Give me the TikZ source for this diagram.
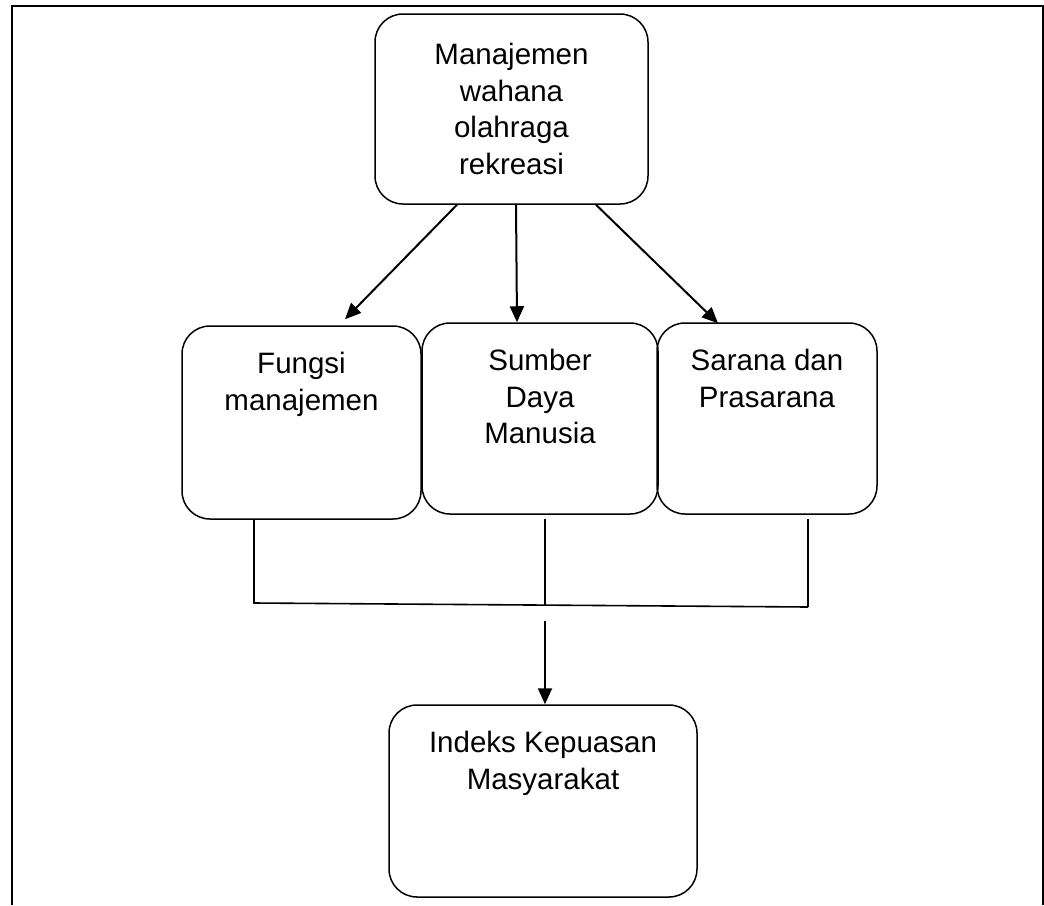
\documentclass[tikz,border=0pt]{standalone}
\usepackage{fontspec}
\setmainfont{Liberation Sans}
\usetikzlibrary{arrows.meta,calc}
\tikzset{
  box/.style={draw=black, line width=1.5pt, rounded corners=28pt, inner sep=0pt, fill=none},
  lbl/.style={align=center, inner sep=0pt, font=\fontsize{29.5}{36.5}\selectfont},
  arr/.style={line width=2pt, -{Triangle[length=16pt,width=14pt]}},
  link/.style={line width=1.6pt},
  frame/.style={line width=2.5pt}
}
\begin{document}
\begin{tikzpicture}[x=1pt,y=-1pt]
\useasboundingbox (0,0) rectangle (1044,905);
% outer frame
\coordinate (fbl) at (12,905);
\coordinate (ftl) at (12,6);
\coordinate (ftr) at (1043,6);
\coordinate (fbr) at (1043,905);
\draw[frame] (fbl) -- (ftl) -- (ftr) -- (fbr);
% boxes
\node[box, minimum width=273pt, minimum height=190pt] (top) at (511.5,109) {};
\node[box, minimum width=239pt, minimum height=193pt] (fungsi) at (301.5,422.5) {};
\node[box, minimum width=236pt, minimum height=191pt] (sumber) at (540,418.5) {};
\node[box, minimum width=220pt, minimum height=191pt] (sarana) at (767,418.5) {};
\node[box, minimum width=308pt, minimum height=192pt] (indeks) at (543,801) {};
% texts
\node[lbl] (ttop) at (top.center) {Manajemen\\wahana\\olahraga\\rekreasi};
\node[lbl, anchor=north] (tfungsi) at ([yshift=-27pt]fungsi.north) {Fungsi\\manajemen};
\node[lbl, anchor=north] (tsumber) at ([yshift=-27pt]sumber.north) {Sumber\\Daya\\Manusia};
\node[lbl, anchor=north] (tsarana) at ([yshift=-27pt]sarana.north) {Sarana dan\\Prasarana};
\node[lbl, anchor=north] (tindeks) at ([yshift=-27pt]indeks.north) {Indeks Kepuasan\\Masyarakat};
% arrows from top
\draw[arr] ([xshift=-54.5pt]top.south) -- ([xshift=43.5pt,yshift=6pt]fungsi.north);
\draw[arr] ([xshift=4.5pt]top.south) -- ([xshift=-23pt]sumber.north);
\draw[arr] ([xshift=84.5pt]top.south) -- ([xshift=-49pt,yshift=-1pt]sarana.north);
% merge
\coordinate (jl) at (254,603);
\coordinate (jm) at (545,605);
\coordinate (jr) at (808,607);
\coordinate (ja) at (545,621);
\draw[link] ([xshift=-47.5pt]fungsi.south) -- (jl) -- (jr);
\draw[link] ([xshift=5pt,yshift=-4pt]sumber.south) -- (jm);
\draw[link] ([xshift=41pt,yshift=-4pt]sarana.south) -- (jr);
\draw[arr] (ja) -- ([xshift=2pt]indeks.north);
\end{tikzpicture}
\end{document}
